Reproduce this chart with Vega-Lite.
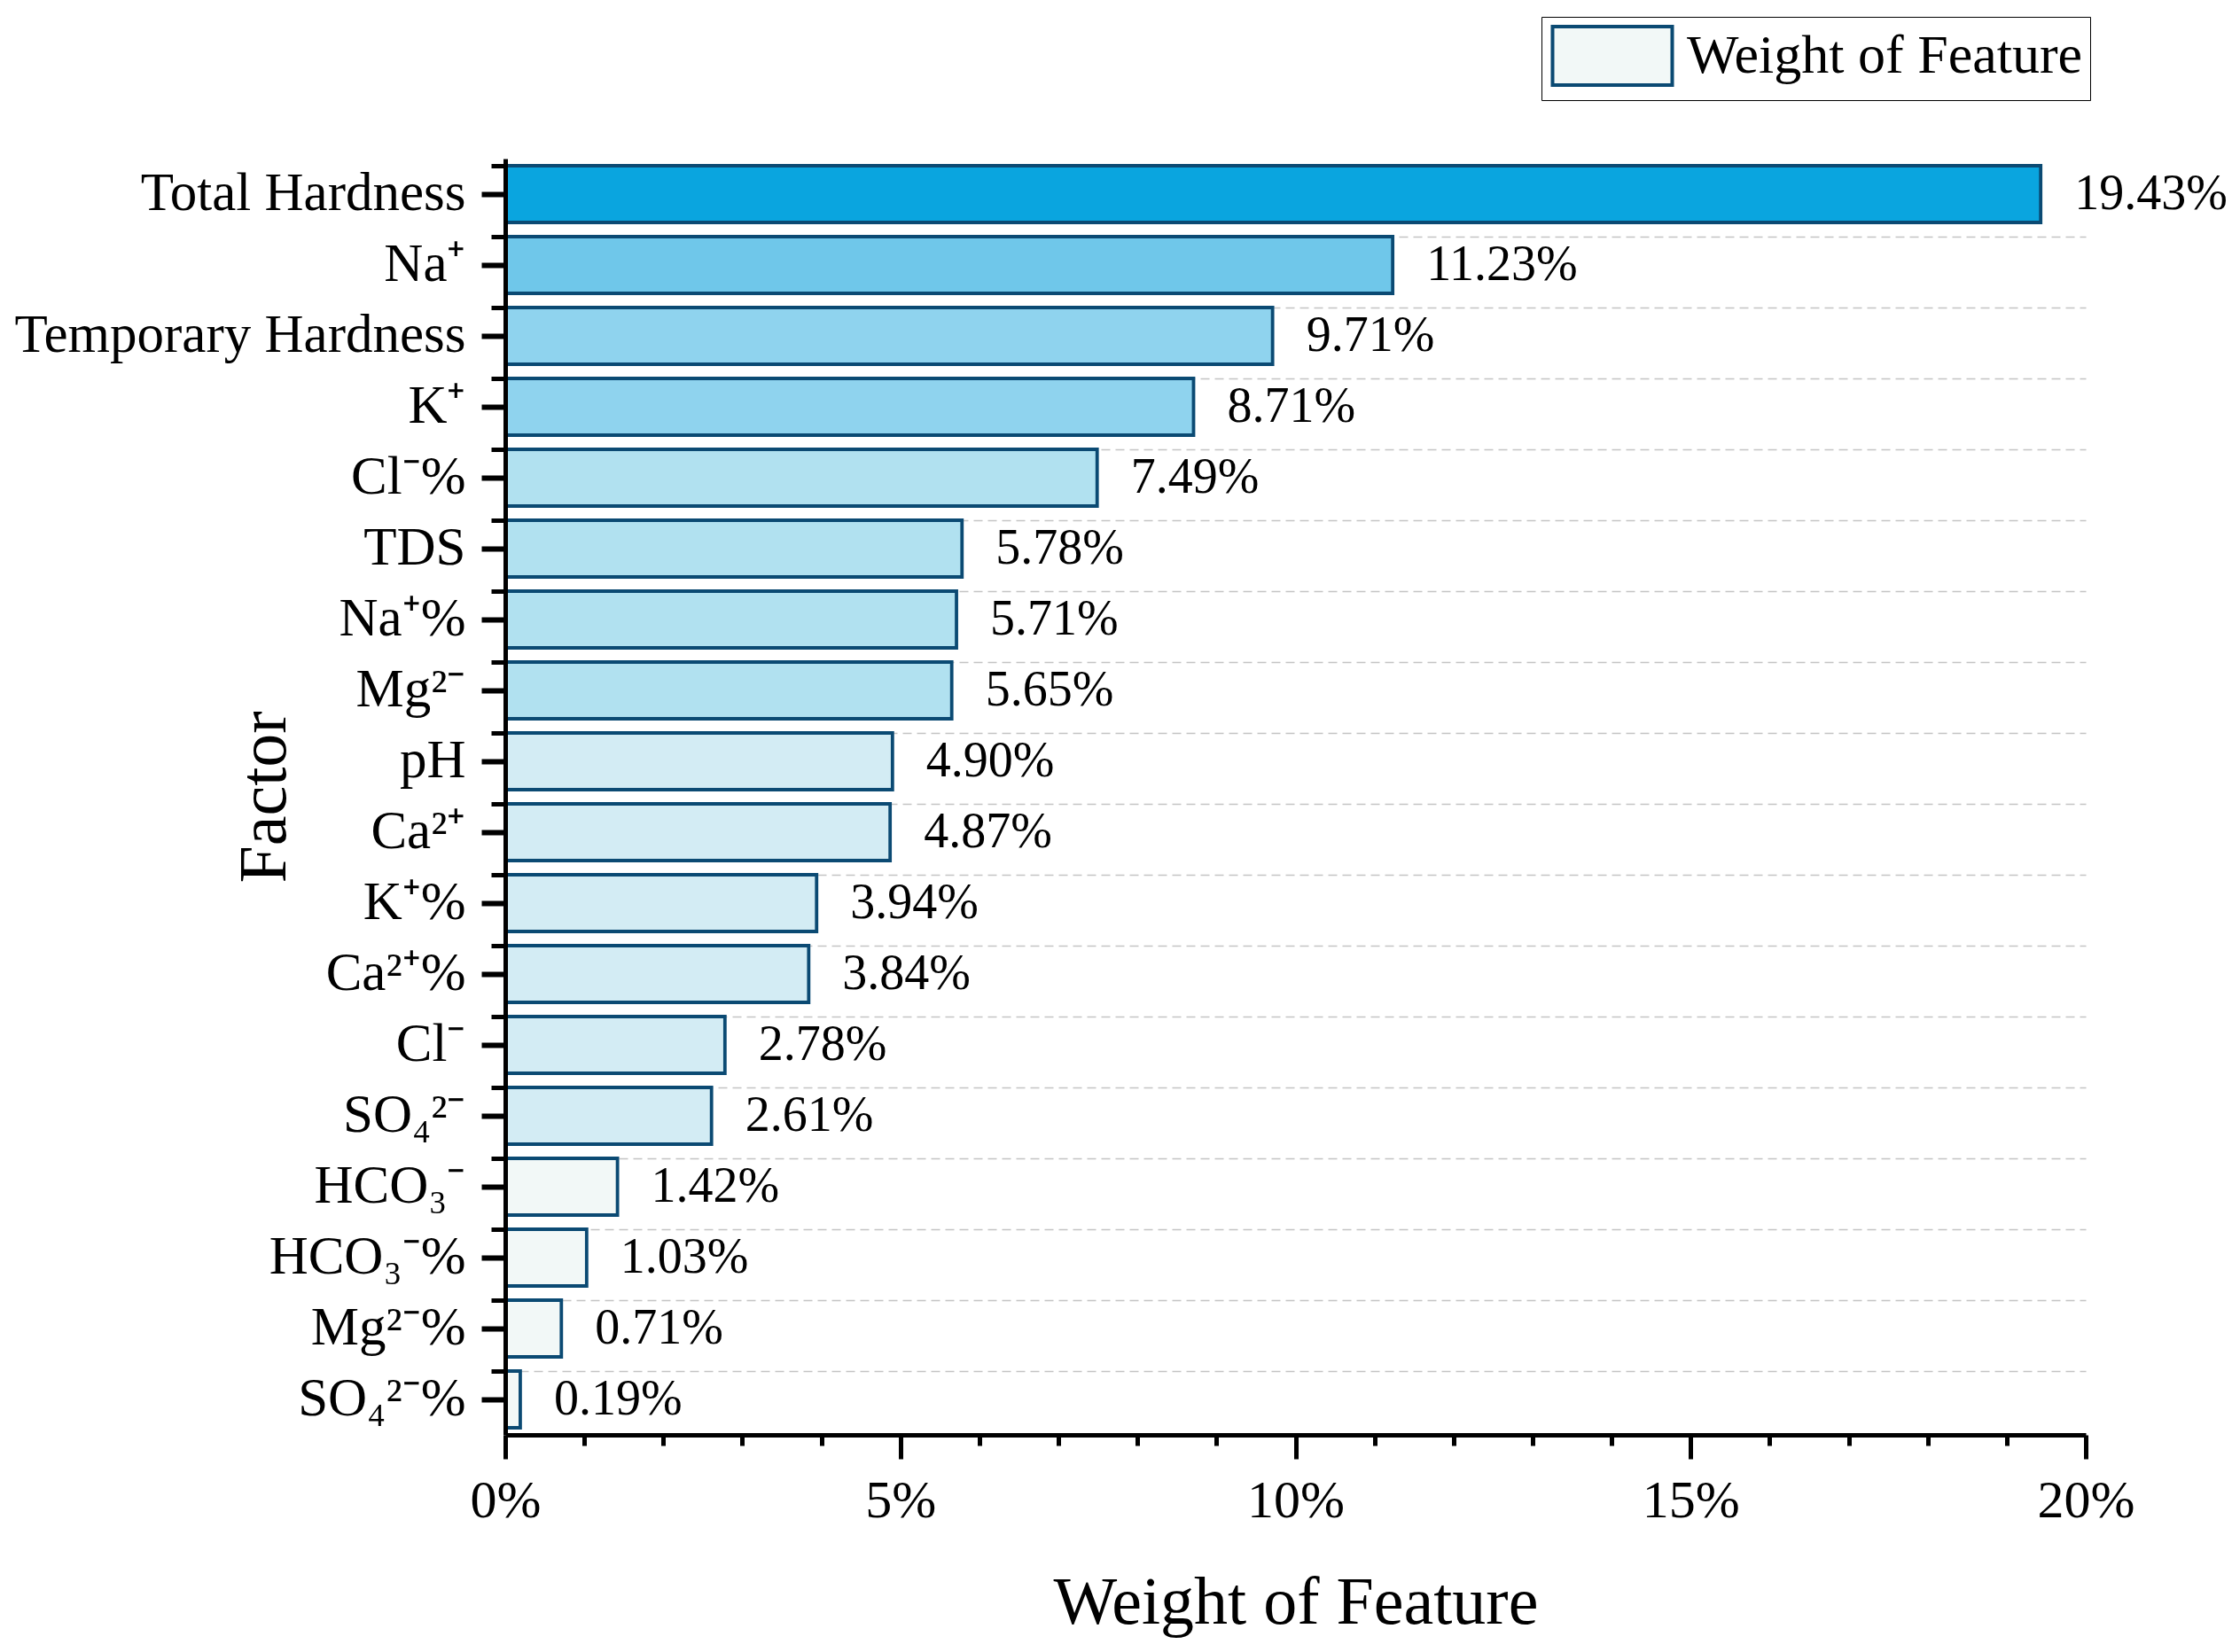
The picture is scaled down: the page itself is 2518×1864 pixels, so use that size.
{
  "$schema": "https://vega.github.io/schema/vega-lite/v6.json",
  "width": 1783,
  "height": 1440,
  "autosize": {"type": "none"},
  "padding": {"left": 570, "top": 179, "right": 165, "bottom": 245},
  "background": "white",
  "config": {
    "font": "Liberation Serif",
    "view": {"stroke": null},
    "axis": {"labelFont": "Liberation Serif", "titleFont": "Liberation Serif", "labelColor": "black", "titleColor": "black", "titleFontWeight": "normal", "labelLimit": 0}
  },
  "data": {
    "values": [
      {"factor": "Total Hardness", "weight": 0.1943},
      {"factor": "Na⁺", "weight": 0.1123},
      {"factor": "Temporary Hardness", "weight": 0.0971},
      {"factor": "K⁺", "weight": 0.0871},
      {"factor": "Cl⁻%", "weight": 0.0749},
      {"factor": "TDS", "weight": 0.0578},
      {"factor": "Na⁺%", "weight": 0.0571},
      {"factor": "Mg²⁻", "weight": 0.0565},
      {"factor": "pH", "weight": 0.0490},
      {"factor": "Ca²⁺", "weight": 0.0487},
      {"factor": "K⁺%", "weight": 0.0394},
      {"factor": "Ca²⁺%", "weight": 0.0384},
      {"factor": "Cl⁻", "weight": 0.0278},
      {"factor": "SO₄²⁻", "weight": 0.0261},
      {"factor": "HCO₃⁻", "weight": 0.0142},
      {"factor": "HCO₃⁻%", "weight": 0.0103},
      {"factor": "Mg²⁻%", "weight": 0.0071},
      {"factor": "SO₄²⁻%", "weight": 0.0019}
    ]
  },
  "resolve": {"axis": {"x": "independent", "y": "independent"}},
  "layer": [
    {
      "mark": {"type": "bar", "strokeWidth": 3.8},
      "encoding": {
        "y": {
          "field": "factor", "type": "nominal", "sort": null,
          "scale": {"paddingInner": 0.2, "paddingOuter": 0.1},
          "axis": {
            "orient": "left",
            "title": "Factor", "titleFontSize": 76, "titleX": -249, "titleY": 720,
            "titleBaseline": "alphabetic", "titleAlign": "center", "titleAngle": -90,
            "labelFontSize": 61, "labelPadding": 18, "labelColor": "black", "labelLimit": 0,
            "tickSize": 27, "tickWidth": 6, "tickColor": "black",
            "domainWidth": 5, "domainColor": "black", "grid": false, "zindex": 1
          }
        },
        "x": {
          "field": "weight", "type": "quantitative",
          "scale": {"domain": [0, 0.2], "nice": false},
          "axis": {
            "orient": "bottom",
            "title": "Weight of Feature", "titleFontSize": 76, "titlePadding": 48,
            "values": [0, 0.05, 0.1, 0.15, 0.2], "format": ".0%",
            "labelFontSize": 60, "labelPadding": 18, "labelFlush": false,
            "tickSize": 27, "tickWidth": 5, "tickColor": "black",
            "domainWidth": 5, "domainColor": "black", "grid": false, "zindex": 1
          }
        },
        "fill": {
          "field": "weight", "type": "quantitative",
          "scale": {"type": "threshold", "domain": [0.02, 0.05, 0.08, 0.10, 0.15],
                    "range": ["#f2f8f7", "#d3ecf4", "#b1e1f0", "#8fd3ee", "#6fc7ea", "#0aa5df"]},
          "legend": null
        },
        "stroke": {
          "datum": "Weight of Feature", "type": "nominal",
          "scale": {"range": ["#0b4a73"]},
          "legend": {
            "title": null, "orient": "none", "legendX": 1169, "legendY": -160,
            "strokeColor": "black", "padding": 8,
            "symbolType": "M-2,-0.98H2V0.98H-2Z", "symbolSize": 4556,
            "symbolStrokeWidth": 4, "symbolFillColor": "#f2f8f7", "symbolStrokeColor": "#0b4a73",
            "symbolOffset": 36,
            "labelFontSize": 62, "labelFont": "Liberation Serif", "labelColor": "black", "labelOffset": 48, "labelLimit": 0
          }
        }
      }
    },
    {
      "mark": {"type": "text", "align": "left", "baseline": "middle", "dx": 38, "fontSize": 56, "font": "Liberation Serif", "color": "black"},
      "encoding": {
        "y": {
          "field": "factor", "type": "nominal", "sort": null,
          "axis": {
            "orient": "left",
            "title": null, "labels": false, "domain": false, "bandPosition": 0,
            "tickSize": 16, "tickWidth": 5, "tickColor": "black",
            "grid": true, "gridDash": [10, 6], "gridColor": "#c4c4c4", "gridWidth": 1.5,
            "gridOpacity": {"condition": {"test": "datum.value === 'Total Hardness'", "value": 0}, "value": 1},
            "zindex": 0
          }
        },
        "x": {
          "field": "weight", "type": "quantitative",
          "axis": {
            "orient": "bottom",
            "title": null, "labels": false, "domain": false, "grid": false,
            "values": [0.01, 0.02, 0.03, 0.04, 0.06, 0.07, 0.08, 0.09, 0.11, 0.12, 0.13, 0.14, 0.16, 0.17, 0.18, 0.19],
            "tickSize": 12, "tickWidth": 5, "tickColor": "black", "zindex": 0
          }
        },
        "text": {"field": "weight", "type": "quantitative", "format": ".2%"}
      }
    }
  ]
}
